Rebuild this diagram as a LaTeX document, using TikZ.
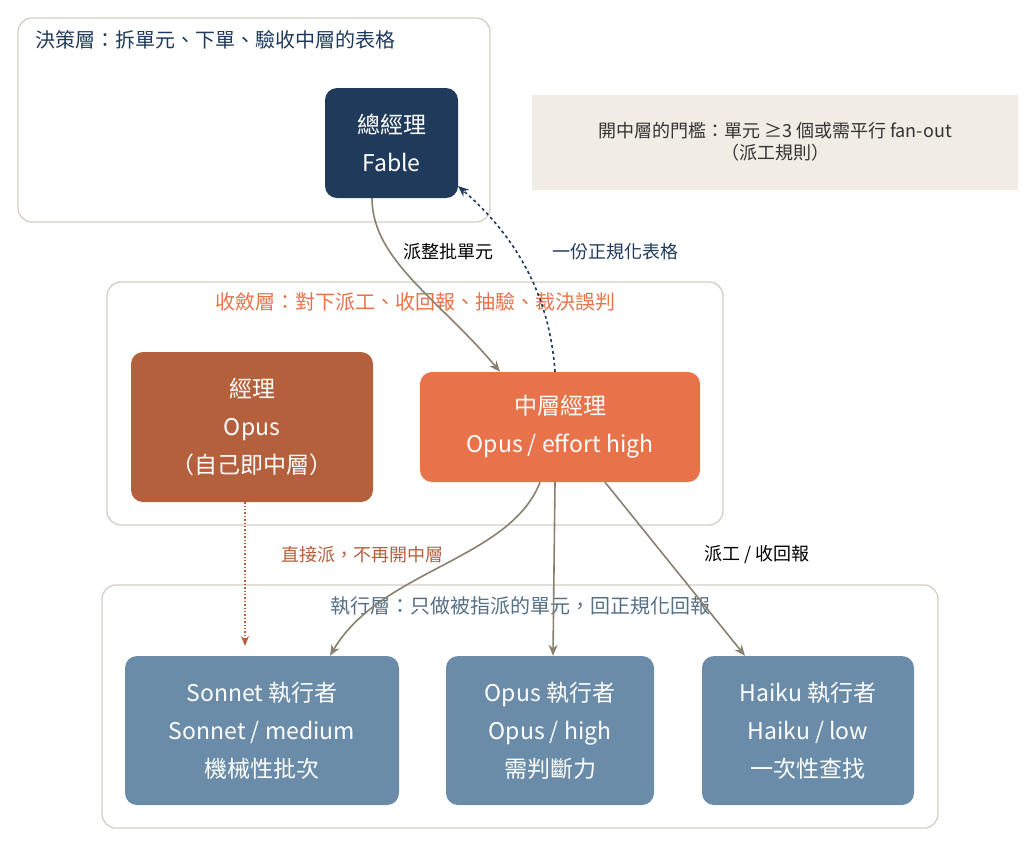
\documentclass[tikz,border=0pt]{standalone}
\usepackage{fontspec}
\setmainfont{Noto Sans CJK TC}
\usetikzlibrary{arrows.meta}
\begin{document}
\begin{tikzpicture}[x=1pt,y=-1pt,
 grp/.style={draw=black!20!gray!50, line width=1.3pt, rounded corners=14pt},
 box/.style={rounded corners=12pt, text=white, align=center, font=\fontsize{23}{38}\selectfont, inner sep=0pt},
 conn/.style={draw=brown!30!gray, line width=1.6pt, -{Stealth[length=11pt,width=9pt]}},
 lab/.style={font=\fontsize{18}{22}\selectfont}]
\useasboundingbox (0,0) rectangle (1024,847);
\definecolor{navy}{HTML}{1F3A5A}
\definecolor{rust}{HTML}{B5603C}
\definecolor{orng}{HTML}{E8734A}
\definecolor{slate}{HTML}{6A8CA8}
\definecolor{note}{HTML}{F1EDE4}
\definecolor{grpc}{HTML}{D3CEC6}
\definecolor{conc}{HTML}{8A8070}
\tikzset{grp/.append style={draw=grpc}, conn/.append style={draw=conc}}
% groups
\draw[grp] (18,18) rectangle (490,222);
\node[lab,anchor=west,text=navy,font=\fontsize{20}{24}\selectfont] (gl1) at (32,40) {決策層：拆單元、下單、驗收中層的表格};
\draw[grp] (107,282) rectangle (723,525);
\node[lab,text=orng,font=\fontsize{20}{24}\selectfont] (gl2) at (415,302) {收斂層：對下派工、收回報、抽驗、裁決誤判};
\draw[grp] (102,585) rectangle (938,828);
\node[lab,text=slate!80!black,font=\fontsize{20}{24}\selectfont] (gl3) at (520,606) {執行層：只做被指派的單元，回正規化回報};
% note
\fill[note] (532,95) rectangle (1018,190);
\node[lab,align=center,text=black!80] (nt) at (775,142) {開中層的門檻：單元 ≥3 個或需平行 fan-out\\（派工規則）};
% nodes
\node[box,fill=navy,minimum width=133pt,minimum height=110pt] (ceo) at (391.5,143) {總經理\\Fable};
\node[box,fill=rust,minimum width=242pt,minimum height=150pt] (mgr) at (252,427) {經理\\Opus\\（自己即中層）};
\node[box,fill=orng,minimum width=280pt,minimum height=110pt] (mid) at (560,427) {中層經理\\Opus / effort high};
\node[box,fill=slate,minimum width=274pt,minimum height=149pt] (son) at (262,730.5) {Sonnet 執行者\\Sonnet / medium\\機械性批次};
\node[box,fill=slate,minimum width=208pt,minimum height=149pt] (opu) at (550,730.5) {Opus 執行者\\Opus / high\\需判斷力};
\node[box,fill=slate,minimum width=212pt,minimum height=149pt] (hai) at (808,730.5) {Haiku 執行者\\Haiku / low\\一次性查找};
% connectors
\draw[conn] (ceo.south-|372,0) .. controls (372,260) and (440,300) .. (mid.north-|500,0);
\draw[draw=navy,line width=1.6pt,dashed,-{Stealth[length=11pt,width=9pt]}] (mid.north-|555,0) .. controls (550,300) and (520,240) .. (458,186);
\node[lab,text=black] (l1) at (448,252) {派整批單元};
\node[lab,text=navy] (l2) at (615,252) {一份正規化表格};
\draw[conn] (mid.south-|540,0) .. controls (510,560) and (380,570) .. (son.north-|330,0);
\draw[conn] (mid.south-|555,0) -- (opu.north-|553,0);
\draw[conn] (mid.south-|605,0) -- (hai.north-|745,0);
\node[lab,text=black] (l3) at (757,555) {派工 / 收回報};
\draw[draw=rust,line width=1.4pt,dotted,-{Stealth[length=10pt,width=8pt]}] (mgr.south-|245,0) -- (245,646);
\node[lab,text=rust] (l4) at (362,555) {直接派，不再開中層};
\end{tikzpicture}
\end{document}
